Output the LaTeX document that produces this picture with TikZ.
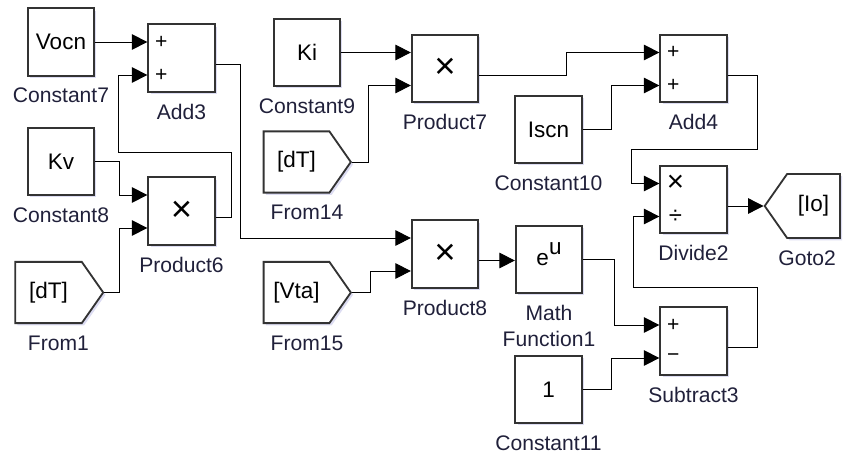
\documentclass[tikz,border=0pt]{standalone}
\usepackage{fontspec}
\setmainfont{Liberation Sans}
\usepackage{tikz}
\usetikzlibrary{arrows.meta,shapes.symbols,shadows,calc,positioning}

\definecolor{lblblue}{RGB}{32,32,58}
\definecolor{halo}{RGB}{220,220,242}

\tikzset{
  blk/.style={draw=black!80, line width=1.3pt, fill=white, minimum width=1.66cm, minimum height=1.68cm,
    inner sep=0pt, font=\fontsize{16}{18}\selectfont,
    drop shadow={shadow xshift=1.6pt, shadow yshift=-1.6pt, fill=halo, opacity=1}},
  tag/.style={blk, signal, signal pointer angle=110, minimum height=1.53cm},
  lbl/.style={text=lblblue, font=\fontsize{15}{18.5}\selectfont, inner sep=0pt, align=center},
  sgn/.style={inner sep=0pt, font=\fontsize{15}{15}\selectfont},
  mul/.style={inner sep=0pt, font=\fontsize{26}{26}\selectfont},
  sig/.style={line width=0.7pt, -{Triangle[length=11pt,width=11pt]}},
}

\begin{document}
\begin{tikzpicture}[x=0.025cm, y=-0.025cm]
\useasboundingbox (0,0) rectangle (846,453);

% sources
\node[blk] (c7) at (61,42) {Vocn};
\node[blk] (c8) at (61,161.5) {Kv};
\node[tag, signal to=east, minimum width=2.2cm] (from1) at (48.5,292.5) {[dT]};
\node[blk] (c9) at (307,52.5) {Ki};
\node[tag, signal to=east, minimum width=2.18cm] (from14) at (296.5,162) {[dT]};
\node[tag, signal to=east, minimum width=2.18cm] (from15) at (296.5,292.5) {[Vta]};
\node[blk] (c10) at (548.5,129.5) {Iscn};
\node[blk] (c11) at (548.5,389.5) {1};

% operations
\node[blk] (add3) at (181.5,58) {};
\node[blk] (prod6) at (181.5,211) {};
\node[blk] (prod7) at (445,68.5) {};
\node[blk] (prod8) at (445,254) {};
\node[blk] (mf1) at (549,259.5) {e\smash{\raisebox{8pt}{u}}};
\node[blk] (add4) at (693.5,68.5) {};
\node[blk] (div2) at (693.5,199.5) {};
\node[blk] (sub3) at (693.5,341) {};
\node[tag, signal to=west, minimum width=1.88cm, minimum height=1.6cm] (goto2) at (813.5,206) {[Io]};

% block names
\node[lbl, below=8pt of c7] (c7-l) {Constant7};
\node[lbl, below=8pt of c8] (c8-l) {Constant8};
\node[lbl, below=8pt of from1, xshift=7pt] (from1-l) {From1};
\node[lbl, below=8pt of c9] (c9-l) {Constant9};
\node[lbl, below=8pt of from14, xshift=7.5pt] (from14-l) {From14};
\node[lbl, below=8pt of from15, xshift=7.5pt] (from15-l) {From15};
\node[lbl, below=8pt of c10] (c10-l) {Constant10};
\node[lbl, below=8pt of c11] (c11-l) {Constant11};
\node[lbl, below=8pt of add3] (add3-l) {Add3};
\node[lbl, below=8pt of prod6] (prod6-l) {Product6};
\node[lbl, below=8pt of prod7] (prod7-l) {Product7};
\node[lbl, below=8pt of prod8] (prod8-l) {Product8};
\node[lbl, below=8pt of mf1] (mf1-l) {Math\\Function1};
\node[lbl, below=8pt of add4] (add4-l) {Add4};
\node[lbl, below=8pt of div2] (div2-l) {Divide2};
\node[lbl, below=8pt of sub3] (sub3-l) {Subtract3};
\node[lbl, below=8pt of goto2, xshift=-4.5pt] (goto2-l) {Goto2};

% ports
\foreach \b in {add3,prod6,prod7,add4,div2,prod8,sub3}{
  \coordinate (\b-in1) at ($(\b.west)+(0,-16)$);
  \coordinate (\b-in2) at ($(\b.west)+(0,17)$);
  \coordinate (\b-out) at ($(\b.east)+(0,6.5)$);
}

% signs
\foreach \b in {add3,add4}{
  \node[sgn] at ($(\b-in1)+(14,0)$) {+};
  \node[sgn] at ($(\b-in2)+(14,0)$) {+};
}
\foreach \b in {prod6,prod7,prod8}
  \node[mul] at (\b) {×};
\node[sgn, font=\fontsize{21}{21}\selectfont] at ($(div2-in1)+(16,0)$) {×};
\node[sgn, font=\fontsize{17}{17}\selectfont] at ($(div2-in2)+(16,0)$) {÷};
\node[sgn] at ($(sub3-in1)+(14,0)$) {+};
\node[sgn] at ($(sub3-in2)+(14,0)$) {−};

% signals
\draw[sig] (c7.east) -- (add3-in1);
\draw[sig] (c8.east) -- ++(24,0) |- (prod6-in1);
\draw[sig] (from1.east) -- ++(15,0) |- (prod6-in2);
\draw[sig] (prod6-out) -- ++(16,0) |- (118,152) |- (add3-in2);
\draw[sig] (add3-out) -- ++(25,0) |- (prod8-in1);
\draw[sig] (c9.east) -- (prod7-in1);
\draw[sig] (from14.east) -- ++(17,0) |- (prod7-in2);
\draw[sig] (from15.east) -- ++(19,0) |- (prod8-in2);
\draw[sig] (prod7-out) -- ++(87,0) |- (add4-in1);
\draw[sig] (c10.east) -- ++(29,0) |- (add4-in2);
\draw[sig] (prod8-out) -- (prod8-out -| mf1.west);
\draw[sig] (mf1.east) -- ++(31,0) |- (sub3-in1);
\draw[sig] (c11.east) -- ++(29,0) |- (sub3-in2);
\draw[sig] (add4-out) -- ++(30,0) |- (631,149) |- (div2-in1);
\draw[sig] (sub3-out) -- ++(30,0) |- (633,287) |- (div2-in2);
\draw[sig] (div2-out) -- (div2-out -| goto2.west);
\end{tikzpicture}
\end{document}
